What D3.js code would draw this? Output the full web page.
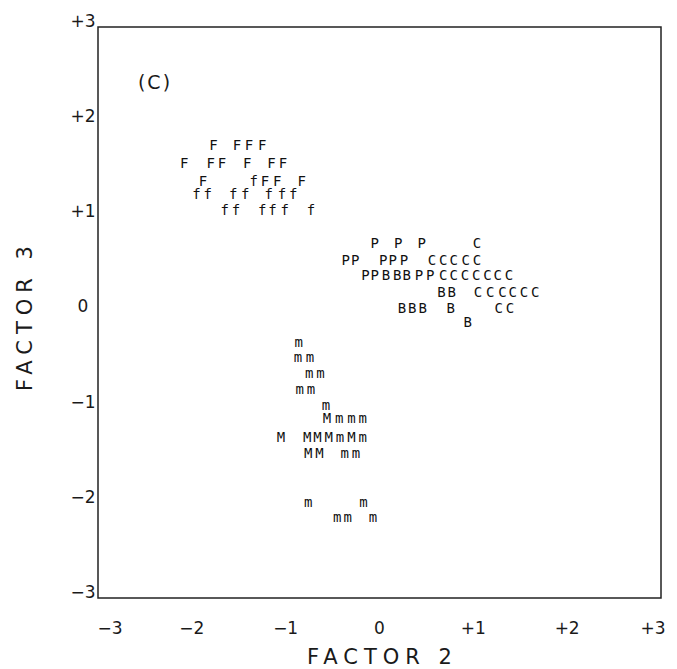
<!DOCTYPE html>
<head>
    <meta charset="UTF-8">
    <script src="https://cdnjs.cloudflare.com/ajax/libs/d3/7.8.5/d3.min.js"></script>
    <style>
        body { margin: 0; background: #fff; }
        text { fill: #1a1a1a; }
    </style>
</head>
<body>
    <svg id="chart"></svg>

    <script>
        //********** DATA *********************
        // each point: [factor 2, factor 3, letter]
        var fPoints = [
            [-1.77, 1.76, "F"], [-1.52, 1.76, "F"], [-1.39, 1.76, "F"], [-1.25, 1.76, "F"],
            [-2.08, 1.57, "F"], [-1.80, 1.57, "F"], [-1.68, 1.57, "F"], [-1.41, 1.57, "F"], [-1.15, 1.57, "F"], [-1.03, 1.57, "F"],
            [-1.88, 1.38, "F"], [-1.34, 1.38, "f"], [-1.22, 1.38, "F"], [-1.09, 1.38, "F"], [-0.83, 1.38, "F"],
            [-1.95, 1.245, "f"], [-1.83, 1.245, "f"], [-1.56, 1.245, "f"], [-1.43, 1.245, "f"], [-1.18, 1.245, "f"], [-1.04, 1.245, "f"], [-0.92, 1.245, "f"],
            [-1.65, 1.08, "f"], [-1.53, 1.08, "f"], [-1.25, 1.08, "f"], [-1.14, 1.08, "f"], [-1.01, 1.08, "f"], [-0.73, 1.08, "f"]
        ];

        var pPoints = [
            [-0.05, 0.73, "P"], [0.20, 0.73, "P"], [0.45, 0.73, "P"],
            [-0.36, 0.55, "P"], [-0.26, 0.55, "P"], [0.04, 0.55, "P"], [0.14, 0.55, "P"], [0.26, 0.55, "P"],
            [-0.15, 0.39, "P"], [-0.05, 0.39, "P"], [0.42, 0.39, "P"], [0.54, 0.39, "P"]
        ];

        var bPoints = [
            [0.07, 0.39, "B"], [0.19, 0.39, "B"], [0.29, 0.39, "B"],
            [0.66, 0.215, "B"], [0.77, 0.215, "B"],
            [0.24, 0.047, "B"], [0.35, 0.047, "B"], [0.46, 0.047, "B"], [0.76, 0.047, "B"],
            [0.94, -0.10, "B"]
        ];

        var cPoints = [
            [1.04, 0.73, "C"],
            [0.56, 0.55, "C"], [0.68, 0.55, "C"], [0.79, 0.55, "C"], [0.92, 0.55, "C"], [1.04, 0.55, "C"],
            [0.68, 0.39, "C"], [0.79, 0.39, "C"], [0.91, 0.39, "C"], [1.03, 0.39, "C"], [1.15, 0.39, "C"], [1.26, 0.39, "C"], [1.38, 0.39, "C"],
            [1.05, 0.215, "C"], [1.18, 0.215, "C"], [1.31, 0.215, "C"], [1.42, 0.215, "C"], [1.54, 0.215, "C"], [1.66, 0.215, "C"],
            [1.27, 0.047, "C"], [1.39, 0.047, "C"]
        ];

        var mPoints = [
            [-0.86, -0.31, "m"],
            [-0.87, -0.47, "m"], [-0.74, -0.47, "m"],
            [-0.75, -0.64, "m"], [-0.63, -0.64, "m"],
            [-0.85, -0.81, "m"], [-0.73, -0.81, "m"],
            [-0.57, -0.97, "m"],
            [-0.56, -1.11, "M"], [-0.43, -1.11, "m"], [-0.30, -1.11, "m"], [-0.18, -1.11, "m"],
            [-1.05, -1.31, "M"], [-0.77, -1.31, "M"], [-0.66, -1.31, "M"], [-0.54, -1.31, "M"], [-0.42, -1.31, "m"], [-0.30, -1.31, "M"], [-0.18, -1.31, "m"],
            [-0.76, -1.48, "M"], [-0.64, -1.48, "M"], [-0.37, -1.48, "m"], [-0.25, -1.48, "m"],
            [-0.76, -1.99, "m"], [-0.17, -1.99, "m"],
            [-0.45, -2.15, "m"], [-0.34, -2.15, "m"], [-0.07, -2.15, "m"]
        ];

        var tickValues = [-3, -2, -1, 0, 1, 2, 3];
        var tickLabels = ["\u22123", "\u22122", "\u22121", "0", "+1", "+2", "+3"];
        var xTitle = "FACTOR 2", yTitle = "FACTOR 3", panelLabel = "(C)";

        //********** SETUP *********************
        var width = 677, height = 669;
        var svg = d3.select("#chart").attr("width", width).attr("height", height);

        var x = d3.scaleLinear().domain([-3, 3]).range([98, 661]);
        var y = d3.scaleLinear().domain([-3, 3]).range([598, 27]);

        // frame
        svg.append("rect")
            .attr("x", x(-3)).attr("y", y(3))
            .attr("width", x(3) - x(-3)).attr("height", y(-3) - y(3))
            .style("fill", "none").style("stroke", "#222").style("stroke-width", 1.5);

        var labelFont = "'DejaVu Sans', sans-serif";

        // x tick labels (ends pulled inward as in the original)
        svg.append("g").selectAll("text")
            .data(tickValues).enter().append("text")
            .attr("x", function (d) { return x(d) + (d === -3 ? 12 : d === 3 ? -8 : 0); })
            .attr("y", 628).attr("dy", "0.35em")
            .attr("text-anchor", "middle")
            .style("font-family", labelFont).style("font-size", "17px")
            .text(function (d, i) { return tickLabels[i]; });

        // y tick labels
        svg.append("g").selectAll("text")
            .data(tickValues).enter().append("text")
            .attr("x", 83)
            .attr("y", function (d) { return y(d) - 6; }).attr("dy", "0.35em")
            .attr("text-anchor", "middle")
            .style("font-family", labelFont).style("font-size", "17px")
            .text(function (d, i) { return tickLabels[i]; });

        // axis titles
        svg.append("text")
            .attr("x", x(0) + 3).attr("y", 657).attr("dy", "0.35em")
            .attr("text-anchor", "middle")
            .style("font-family", labelFont).style("font-size", "21px")
            .style("letter-spacing", "6px")
            .text(xTitle);

        svg.append("text")
            .attr("transform", "translate(25," + (y(0) + 3) + ") rotate(-90)")
            .attr("dy", "0.35em")
            .attr("text-anchor", "middle")
            .style("font-family", labelFont).style("font-size", "21px")
            .style("letter-spacing", "6px")
            .text(yTitle);

        svg.append("text")
            .attr("x", 155).attr("y", 82).attr("dy", "0.35em")
            .attr("text-anchor", "middle")
            .style("font-family", labelFont).style("font-size", "19px")
            .style("letter-spacing", "2px")
            .text(panelLabel);

        // points drawn as letters
        var allPoints = fPoints.concat(pPoints, bPoints, cPoints, mPoints);

        svg.append("g").selectAll("text")
            .data(allPoints).enter().append("text")
            .attr("x", function (d) { return x(d[0]); })
            .attr("y", function (d) { return y(d[1]); })
            .attr("dy", "0.35em")
            .attr("text-anchor", "middle")
            .style("font-family", "'DejaVu Sans Mono', monospace")
            .style("font-size", "14px")
            .style("fill", "#111")
            .text(function (d) { return d[2]; });
    </script>
</body>
